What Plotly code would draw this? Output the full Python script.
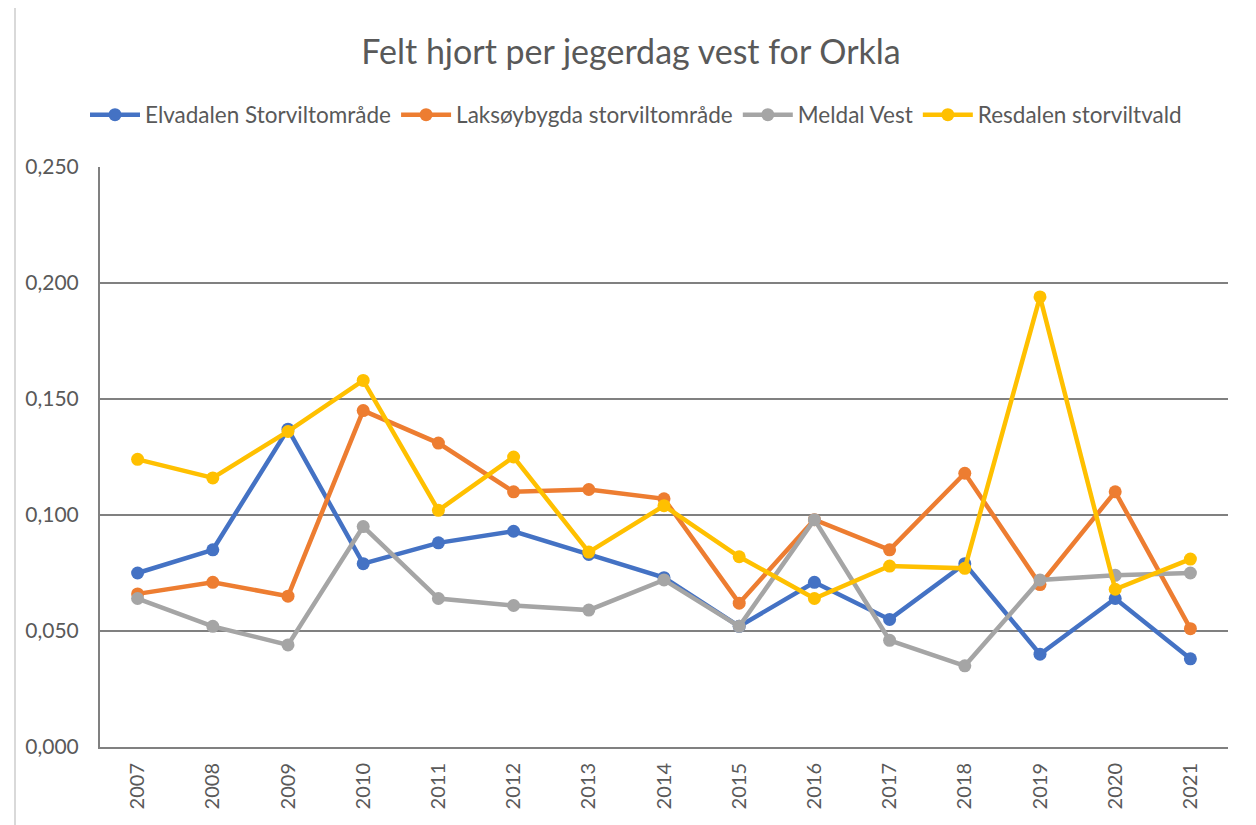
import plotly.graph_objects as go

years = ["2007", "2008", "2009", "2010", "2011", "2012", "2013", "2014",
         "2015", "2016", "2017", "2018", "2019", "2020", "2021"]
elvadalen = [0.075, 0.085, 0.137, 0.079, 0.088, 0.093, 0.083, 0.073,
             0.052, 0.071, 0.055, 0.079, 0.040, 0.064, 0.038]
laksoybygda = [0.066, 0.071, 0.065, 0.145, 0.131, 0.110, 0.111, 0.107,
               0.062, 0.098, 0.085, 0.118, 0.070, 0.110, 0.051]
meldal = [0.064, 0.052, 0.044, 0.095, 0.064, 0.061, 0.059, 0.072,
          0.052, 0.098, 0.046, 0.035, 0.072, 0.074, 0.075]
resdalen = [0.124, 0.116, 0.136, 0.158, 0.102, 0.125, 0.084, 0.104,
            0.082, 0.064, 0.078, 0.077, 0.194, 0.068, 0.081]

series = [
    ("Elvadalen Storviltområde", elvadalen, "#4472C4"),
    ("Laksøybygda storviltområde", laksoybygda, "#ED7D31"),
    ("Meldal Vest", meldal, "#A5A5A5"),
    ("Resdalen storviltvald", resdalen, "#FFC000"),
]

FONT = "Lato, Open Sans, sans-serif"
TXT = "#595959"
OFF = 8  # page body margin
W, H = 1256, 825

fig = go.Figure()
for name, vals, col in series:
    fig.add_trace(go.Scatter(
        x=years, y=vals, name=name, mode="lines+markers",
        line=dict(color=col, width=4.5),
        marker=dict(color=col, size=13),
    ))

fig.update_layout(
    width=W, height=H,
    paper_bgcolor="white", plot_bgcolor="white",
    margin=dict(l=100 - OFF, r=28 + OFF, t=167 - OFF, b=78 + OFF),
    separators=",.",
    font=dict(family=FONT, color=TXT, size=21),
    title=dict(text="Felt hjort per jegerdag vest for Orkla",
               x=(631 - OFF) / W, xref="container", xanchor="center",
               y=1 - (52 - OFF) / H, yref="container", yanchor="middle",
               font=dict(size=34, color=TXT, family=FONT)),
    legend=dict(orientation="h", x=(636 - OFF) / W, xref="container",
                xanchor="center",
                y=1 - (115 - OFF) / H, yref="container", yanchor="middle",
                font=dict(size=22.5, color=TXT), itemwidth=50,
                traceorder="normal"),
    showlegend=True,
)
fig.update_xaxes(type="category", range=[-0.5, 14.5], tickangle=-90,
                 showline=True, linecolor="#808080", linewidth=2,
                 showgrid=False, ticks="", tickfont=dict(size=20, color=TXT),
                 ticklabelstandoff=6, mirror=False)
fig.update_yaxes(range=[0, 0.25], dtick=0.05, tickformat=".3f",
                 showgrid=True, gridcolor="#808080", gridwidth=1.5,
                 showline=True, linecolor="#808080", linewidth=2,
                 zeroline=False, ticks="", tickfont=dict(size=21, color=TXT),
                 ticklabelstandoff=15, ticklen=0)
fig.add_shape(type="line", xref="paper", yref="paper",
              x0=-85 / 1128, x1=-85 / 1128, y0=-1, y1=2,
              line=dict(color="#D9D9D9", width=2))

fig.write_html("out.html")
